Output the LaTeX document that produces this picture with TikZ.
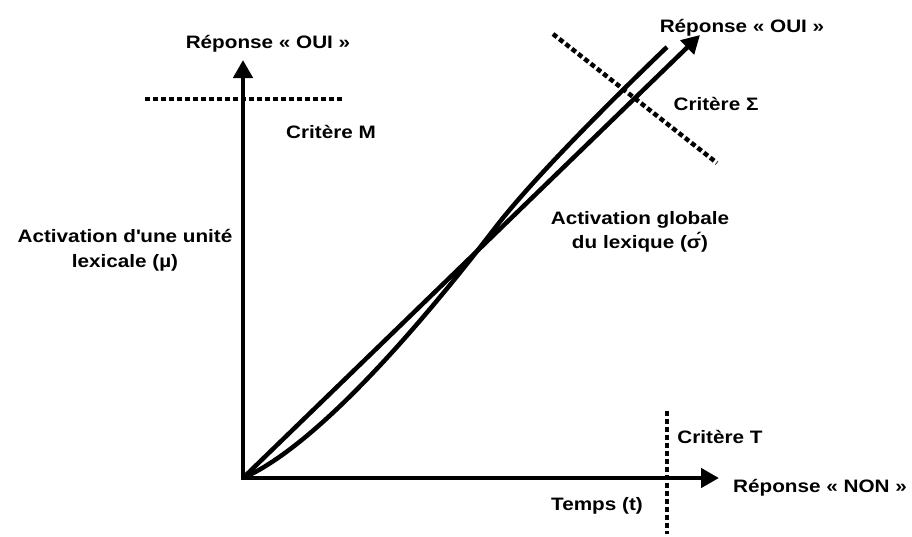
\documentclass[tikz,border=0pt]{standalone}
\usepackage{fontspec}
\setmainfont{Liberation Sans}[FakeStretch=1.15]
\usetikzlibrary{arrows.meta}
\begin{document}
\begin{tikzpicture}[x=1pt,y=-1pt,
  axis/.style={line width=4.5pt,-{Triangle[length=18pt,width=19pt]}},
  curveline/.style={line width=4.5pt},
  crit/.style={line width=4.5pt,dash pattern=on 5pt off 3pt},
  lbl/.style={inner sep=0pt,anchor=base,align=center,font=\fontsize{18}{25}\selectfont\bfseries}]
\useasboundingbox (0,0) rectangle (912,536);
% coordinates
\coordinate (O) at (243,478);
\coordinate (Ytip) at (243,60);
\coordinate (Xtip) at (719,478);
\coordinate (Dtip) at (700,35);
\coordinate (Cx) at (495,228);
\coordinate (Cend) at (667,47);
\coordinate (M1) at (145,99);
\coordinate (M2) at (342,99);
\coordinate (T1) at (667,411);
\coordinate (T2) at (667,534);
\coordinate (S1) at (553,34);
\coordinate (S2) at (717,163);
% criteria
\draw[crit] (M1) -- (M2);
\draw[crit] (T1) -- (T2);
\draw[crit] (S1) -- (S2);
% curve and diagonal
\draw[curveline] (O) .. controls (330,440) and (455,280) .. (Cx)
  .. controls (535,176) and (617,95) .. (Cend);
\draw[axis] (O) -- (Dtip);
% axes
\draw[axis] ([yshift=2.25pt]O) -- (Ytip);
\draw[axis] ([xshift=-2.25pt]O) -- (Xtip);
% labels
\node[lbl] (oui1) at (268,48) {Réponse « OUI »};
\node[lbl] (critM) at (331,138) {Critère M};
\node[lbl] (mu) at (125,267) {Activation d\textquotesingle une unité\\lexicale (µ)};
\node[lbl] (oui2) at (742,32) {Réponse « OUI »};
\node[lbl] (critS) at (716,110) {Critère Σ};
\node[lbl] (sigma) at (640,248) {Activation globale\\[-1pt]du lexique (σ́)};
\node[lbl] (critT) at (720,443) {Critère T};
\node[lbl] (non) at (820,492) {Réponse « NON »};
\node[lbl] (temps) at (597,510) {Temps (t)};
\end{tikzpicture}
\end{document}
